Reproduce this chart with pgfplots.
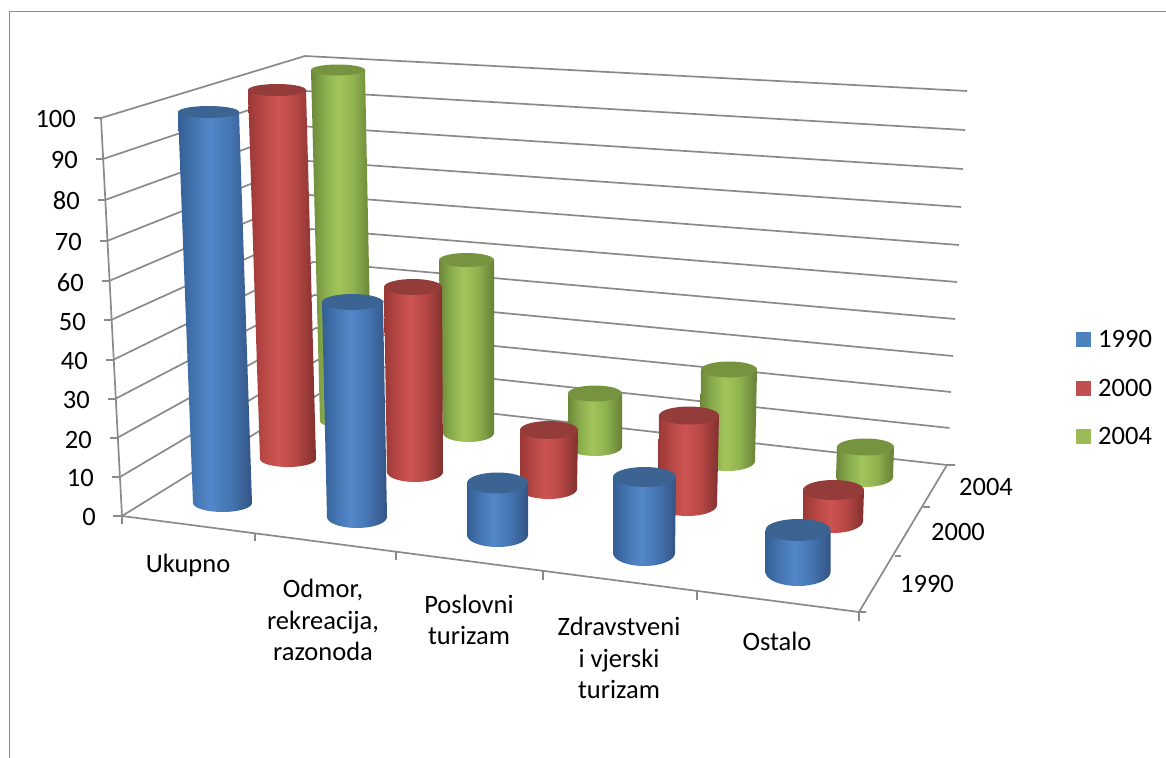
\documentclass[border=0pt]{standalone}
\usepackage{fontspec}
\setmainfont{Carlito}
\usepackage{pgfplots}
\pgfplotsset{compat=1.18}

\definecolor{axisgrey}{HTML}{8A8A8A}
\definecolor{topblue}{HTML}{3B6492}
\definecolor{topred}{HTML}{933C3A}
\definecolor{topgreen}{HTML}{769340}
\definecolor{keyblue}{HTML}{4F81BD}
\definecolor{keyred}{HTML}{C0504D}
\definecolor{keygreen}{HTML}{9BBB59}

% cylinder sides: dark rim, bright just left of the middle
\pgfdeclarehorizontalshading{sideblue}{100bp}{rgb(0bp)=(0.20,0.37,0.58);
  rgb(25bp)=(0.20,0.37,0.58); rgb(36bp)=(0.27,0.46,0.70);
  rgb(47bp)=(0.33,0.53,0.79); rgb(60bp)=(0.27,0.46,0.70);
  rgb(75bp)=(0.20,0.33,0.52); rgb(100bp)=(0.20,0.33,0.52)}
\pgfdeclarehorizontalshading{sidered}{100bp}{rgb(0bp)=(0.60,0.22,0.21);
  rgb(25bp)=(0.60,0.22,0.21); rgb(36bp)=(0.72,0.28,0.27);
  rgb(47bp)=(0.80,0.33,0.32); rgb(60bp)=(0.72,0.28,0.27);
  rgb(75bp)=(0.50,0.19,0.18); rgb(100bp)=(0.50,0.19,0.18)}
\pgfdeclarehorizontalshading{sidegreen}{100bp}{rgb(0bp)=(0.42,0.53,0.22);
  rgb(25bp)=(0.42,0.53,0.22); rgb(36bp)=(0.54,0.68,0.30);
  rgb(47bp)=(0.64,0.77,0.36); rgb(60bp)=(0.56,0.70,0.31);
  rgb(75bp)=(0.40,0.50,0.21); rgb(100bp)=(0.40,0.50,0.21)}

% args: top centre x,y, rx, ry; bottom centre x,y, rx, ry; side shading; top colour
\makeatletter
\def\cyl#1#2#3#4#5#6#7#8#9{\def\cyl@side{#9}\cyl@next{#1}{#2}{#3}{#4}{#5}{#6}{#7}{#8}}
\def\cyl@next#1#2#3#4#5#6#7#8#9{%
  \pgfmathsetmacro\cyl@l{#1-#3}\pgfmathsetmacro\cyl@r{#1+#3}%
  \edef\pts{(\cyl@l,#2)}%
  \pgfplotsforeachungrouped \a in {180,170,...,0}{%
    \pgfmathsetmacro\px{#5+#7*cos(\a)}\pgfmathsetmacro\py{#6+#8*sin(\a)}%
    \edef\pts{\pts (\px,\py)}}%
  \edef\pts{\pts (\cyl@r,#2)}%
  \edef\cmd{\noexpand\addplot[forget plot,draw=none,mark=none,shading=\cyl@side] coordinates {\pts};}\cmd
  \def\pts{}%
  \pgfplotsforeachungrouped \a in {0,10,...,350}{%
    \pgfmathsetmacro\px{#1+#3*cos(\a)}\pgfmathsetmacro\py{#2+#4*sin(\a)}%
    \edef\pts{\pts (\px,\py)}}%
  \edef\cmd{\noexpand\addplot[forget plot,draw=none,mark=none,fill=#9] coordinates {\pts};}\cmd
}
\makeatother
\newcommand{\lbl}[4][center]{\node[anchor=#1,align=center,inner sep=0pt] at (axis cs:#2,#3) {#4};}

\begin{document}
\begin{tikzpicture}
\begin{axis}[
    at={(0,0)},
    width=1166bp,
    height=758bp,
    scale only axis,
    hide axis,
    xmin=0, xmax=1166,
    ymin=0, ymax=758,
    y dir=reverse,
    font=\fontsize{26.5bp}{31.5bp}\selectfont,
    wall/.style={forget plot,color=axisgrey,line width=1.7bp,mark=none},
]
\path (axis cs:0,0) rectangle (axis cs:1166,758);

% outer frame
\addplot[wall] coordinates {(9.5,758) (9.5,11.5) (1166,11.5)};

% gridlines: tick, side wall, back wall
\addplot[wall] coordinates {(94,118) (101,118) (305,56) (967,91)};
\addplot[wall] coordinates {(96,159) (103,159) (305.5,91) (965,130)};
\addplot[wall] coordinates {(98,200) (105,200) (307,126.5) (963,169)};
\addplot[wall] coordinates {(100,241) (107,241) (308.5,161) (961,207)};
\addplot[wall] coordinates {(102,281) (109,281) (310,195) (959,245)};
\addplot[wall] coordinates {(104,320) (111,320) (311.5,229) (957,282)};
\addplot[wall] coordinates {(106,360) (113,360) (313,262) (955,319)};
\addplot[wall] coordinates {(108,399) (115,399) (314.5,295) (953,356)};
\addplot[wall] coordinates {(110,438) (117,438) (316,328) (951,392)};
\addplot[wall] coordinates {(112,477) (120,477) (317.5,360) (949.5,428)};
\addplot[wall] coordinates {(113,516) (122,516) (319,394) (947,465)};

% vertical axis
\addplot[wall] coordinates {(101,118) (122,516) (122,524)};

% floor front edge and its ticks
\addplot[wall] coordinates {(122,516) (859,612) (859,621)};
\addplot[wall] coordinates {(255,533) (255,541)};
\addplot[wall] coordinates {(396,552) (396,560)};
\addplot[wall] coordinates {(543,571) (543,580)};
\addplot[wall] coordinates {(697,591) (697,600)};

% depth axis and its ticks
\addplot[wall] coordinates {(866,612) (859,612) (947,465) (955,465)};
\addplot[wall] coordinates {(923,507) (930,507)};
\addplot[wall] coordinates {(895,556) (901,556)};

% 2004, back row
\cyl{338}{70}{27}{5.5}{346}{421}{26}{7}{sidegreen}{topgreen}
\cyl{466.5}{260}{27.5}{7}{468.5}{433}{25.5}{9}{sidegreen}{topgreen}
\cyl{595}{393.5}{27}{8}{595}{447}{27}{9}{sidegreen}{topgreen}
\cyl{729}{369.5}{28}{8}{727.5}{461}{27.5}{10}{sidegreen}{topgreen}
\cyl{865.5}{447}{28.5}{8.5}{864.5}{477}{28.5}{10}{sidegreen}{topgreen}

% 2000, middle row
\cyl{277}{90}{29}{6}{288}{459}{28}{8}{sidered}{topred}
\cyl{413}{287}{29}{8}{415}{472}{28}{10}{sidered}{topred}
\cyl{549}{430}{29}{9}{548.5}{489}{28.5}{10}{sidered}{topred}
\cyl{689}{415.5}{30}{9}{687.5}{505}{29.5}{11}{sidered}{topred}
\cyl{833.5}{490}{30.5}{10}{833}{521}{30}{12}{sidered}{topred}

% 1990, front row
\cyl{208.5}{112}{30.5}{6}{222.5}{503}{29.5}{9}{sideblue}{topblue}
\cyl{352.5}{302}{30.5}{8}{357}{517}{30}{11}{sideblue}{topblue}
\cyl{497.5}{483}{30.5}{10.5}{497.5}{535}{30.5}{12}{sideblue}{topblue}
\cyl{644.5}{477}{31.5}{10}{644}{553}{31}{13}{sideblue}{topblue}
\cyl{798}{530}{32.5}{11}{798}{572}{32.5}{14}{sideblue}{topblue}

% legend keys
\addplot[forget plot,only marks,mark=square*,mark size=7.2bp,color=keyblue] coordinates {(1083,339)};
\addplot[forget plot,only marks,mark=square*,mark size=7.2bp,color=keyred] coordinates {(1083,388)};
\addplot[forget plot,only marks,mark=square*,mark size=7.2bp,color=keygreen] coordinates {(1083,436)};
\lbl[west]{1098}{339}{1990}
\lbl[west]{1098}{388}{2000}
\lbl[west]{1098}{436}{2004}

% value labels
\lbl[east]{76}{119}{100}
\lbl[east]{78}{160}{90}
\lbl[east]{80}{201}{80}
\lbl[east]{82}{242}{70}
\lbl[east]{84}{283}{60}
\lbl[east]{86}{322}{50}
\lbl[east]{88}{361}{40}
\lbl[east]{90}{400}{30}
\lbl[east]{92}{440}{20}
\lbl[east]{94}{478}{10}
\lbl[east]{96}{517}{0}

% category labels
\lbl{188}{565}{Ukupno}
\lbl{323}{620}{Odmor,\\rekreacija,\\razonoda}
\lbl{469}{620}{Poslovni\\turizam}
\lbl{619}{658}{Zdravstveni\\i vjerski\\turizam}
\lbl{777}{641}{Ostalo}

% depth labels
\lbl{986}{487}{2004}
\lbl{958}{532}{2000}
\lbl{927}{584}{1990}
\end{axis}
\end{tikzpicture}
\end{document}
